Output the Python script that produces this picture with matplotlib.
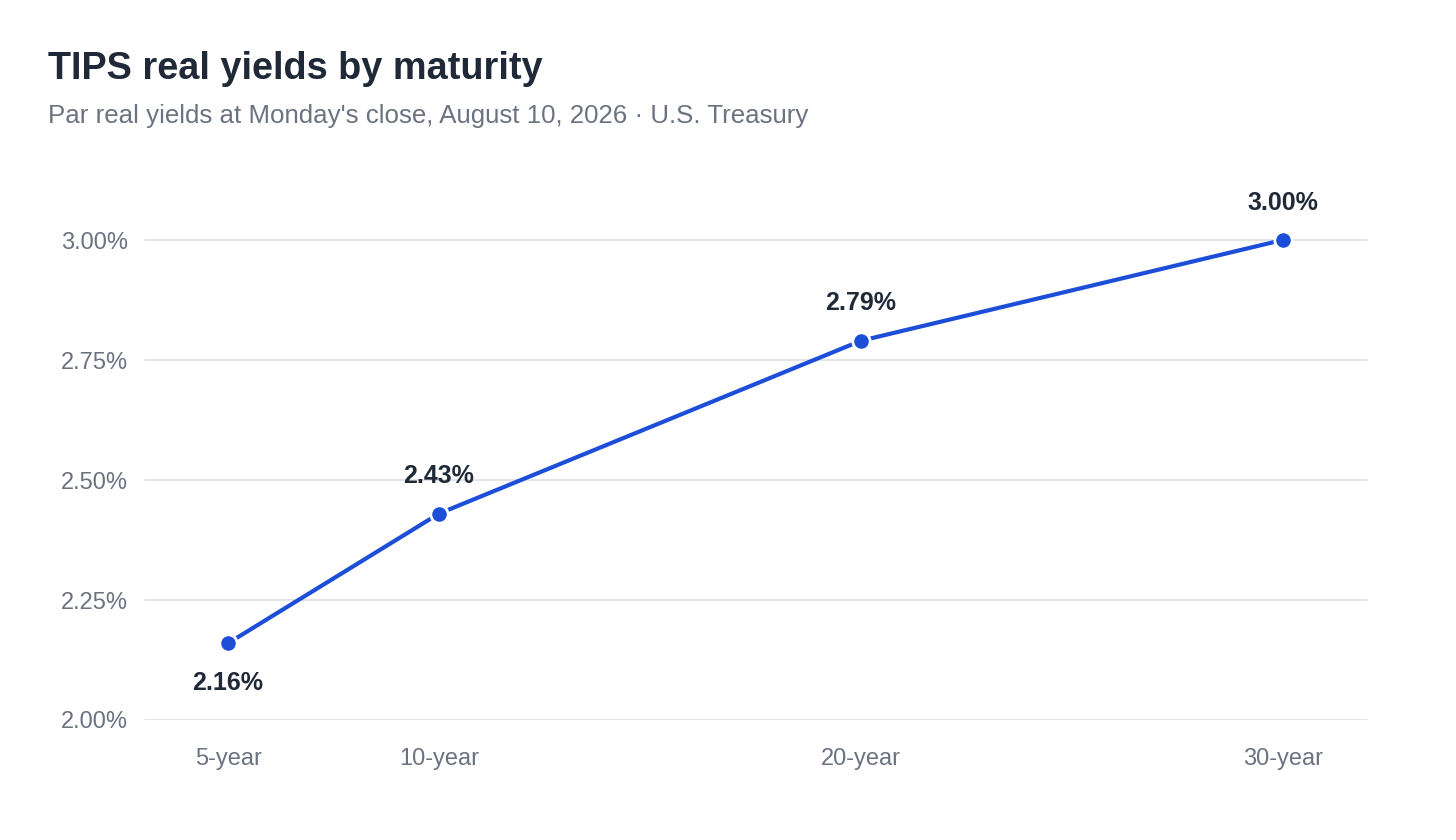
import matplotlib
matplotlib.use("Agg")
import matplotlib.pyplot as plt
from matplotlib.ticker import FuncFormatter

plt.rcParams['font.family'] = ['Liberation Sans', 'DejaVu Sans']

# data
maturities = ["5-year", "10-year", "20-year", "30-year"]
years = [5, 10, 20, 30]
real_yields = [2.16, 2.43, 2.79, 3.00]
y_ticks = [2.00, 2.25, 2.50, 2.75, 3.00]

blue = "#1d4ed8"
dark = "#1f2937"
gray = "#6b7280"

fig = plt.figure(figsize=(14.56, 8.4), dpi=100)
ax = fig.add_axes([145/1456, 1 - 720/840, (1367 - 145)/1456, (720 - 144)/840])

ax.plot(years, real_yields, color=blue, linewidth=3, zorder=3)
ax.plot(years, real_yields, linestyle="none", marker="o", markersize=12.5,
        markerfacecolor=blue, markeredgecolor="white", markeredgewidth=2, zorder=4)

# value labels: the lowest goes below the point
for i, (x, v) in enumerate(zip(years, real_yields)):
    if i == 0:
        ax.annotate(f"{v:.2f}%", (x, v), xytext=(0, -29), textcoords="offset points",
                    ha="center", va="center", fontsize=18, fontweight="bold", color=dark)
    else:
        ax.annotate(f"{v:.2f}%", (x, v), xytext=(0, 27), textcoords="offset points",
                    ha="center", va="center", fontsize=18, fontweight="bold", color=dark)

ax.set_xlim(3.03, 32.0)
ax.set_ylim(2.0, 3.2)
ax.set_xticks(years)
ax.set_xticklabels(maturities)
ax.set_yticks(y_ticks)
ax.yaxis.set_major_formatter(FuncFormatter(lambda v, p: f"{v:.2f}%"))
ax.tick_params(axis="both", length=0, labelsize=17, labelcolor=gray)
ax.tick_params(axis="x", pad=20)
ax.tick_params(axis="y", pad=12)
ax.grid(axis="y", color="#dfe2e6", linewidth=1.3)
ax.set_axisbelow(True)
for s in ax.spines.values():
    s.set_visible(False)

fig.text(48/1456, 1 - 69/840, "TIPS real yields by maturity", fontsize=27.3, fontweight="bold",
         color=dark, ha="left", va="center")
fig.text(48/1456, 1 - 116/840, "Par real yields at Monday's close, August 10, 2026 \u00b7 U.S. Treasury",
         fontsize=18.6, color=gray, ha="left", va="center")

fig.savefig("out.png", dpi=100, facecolor="white")
